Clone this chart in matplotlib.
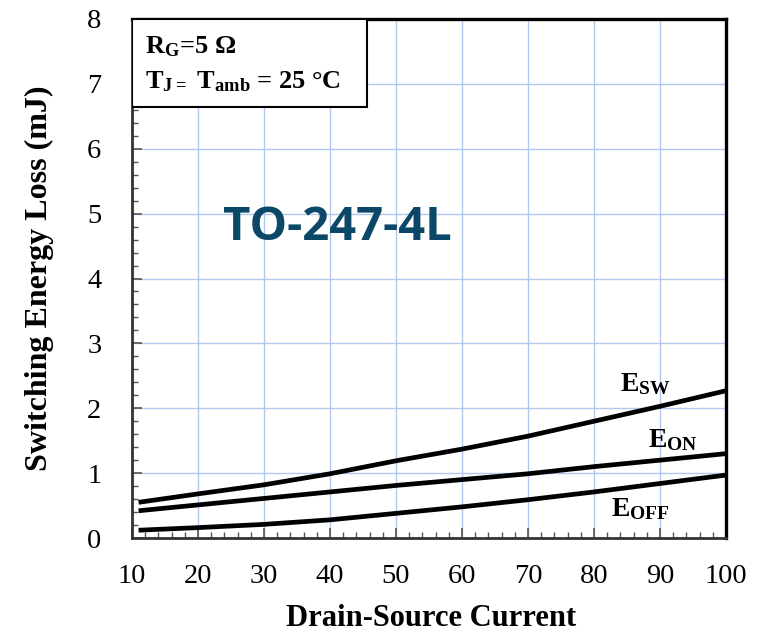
import matplotlib
matplotlib.use("Agg")
import matplotlib.pyplot as plt
from matplotlib.ticker import MultipleLocator
from matplotlib.patches import Rectangle

current = [11, 20, 30, 40, 50, 60, 70, 80, 90, 100]
e_sw = [0.55, 0.68, 0.82, 0.99, 1.19, 1.37, 1.57, 1.80, 2.03, 2.27]
e_on = [0.42, 0.51, 0.61, 0.71, 0.81, 0.90, 0.99, 1.10, 1.20, 1.30]
e_off = [0.12, 0.16, 0.21, 0.28, 0.38, 0.48, 0.59, 0.71, 0.84, 0.97]
x_ticks = [10, 20, 30, 40, 50, 60, 70, 80, 90, 100]
y_ticks = [0, 1, 2, 3, 4, 5, 6, 7, 8]

plt.rcParams['mathtext.fontset'] = 'custom'
plt.rcParams['mathtext.rm'] = 'Liberation Serif:bold'
plt.rcParams['mathtext.bf'] = 'Liberation Serif:bold'
plt.rcParams['mathtext.it'] = 'Liberation Serif:bold'

fig = plt.figure(figsize=(7.61, 6.33), dpi=100)
ax = fig.add_axes([132/761, 1-538/633, (726-132)/761, (538-19)/633])

grid_c = '#b3c7ee'
ax.set_xlim(10, 100)
ax.set_ylim(0, 8)
ax.set_xticks(x_ticks)
ax.set_yticks(y_ticks)
ax.xaxis.set_minor_locator(MultipleLocator(2))
ax.yaxis.set_minor_locator(MultipleLocator(0.2))
ax.grid(True, which='major', color=grid_c, linewidth=1.0)
ax.set_axisbelow(True)

for s in ax.spines.values():
    s.set_linewidth(2.4)
    s.set_color('black')
ax.spines['left'].set_color('#333333')
ax.spines['bottom'].set_color('#333333')
ax.spines['left'].set_linewidth(2.0)
ax.spines['bottom'].set_linewidth(2.0)

ax.tick_params(which='major', direction='in', length=7, width=1.2, color='#555555',
               top=False, right=False)
ax.tick_params(which='minor', direction='in', length=4, width=1.0, color='#555555',
               top=False, right=False)
ax.tick_params(axis='x', which='major', pad=19)
ax.tick_params(axis='y', which='major', pad=22)
for lab in ax.get_xticklabels() + ax.get_yticklabels():
    lab.set_fontfamily('Liberation Serif')
    lab.set_fontsize(20.5)

lw = 3.4
ax.plot(current, e_sw, color='black', lw=lw, solid_capstyle='butt', solid_joinstyle='round')
ax.plot(current, e_on, color='black', lw=lw, solid_capstyle='butt', solid_joinstyle='round')
ax.plot(current, e_off, color='black', lw=lw, solid_capstyle='butt', solid_joinstyle='round')

ax.set_xlabel('Drain-Source Current', fontfamily='Liberation Serif', fontweight='bold',
              fontsize=22, va='top')
ax.xaxis.set_label_coords(0.503, -0.127)
ax.set_ylabel('Switching Energy Loss (mJ)', fontfamily='Liberation Serif', fontweight='bold',
              fontsize=23)
ax.yaxis.set_label_coords(-0.132, 0.5)

lab_kw = dict(fontfamily='Liberation Serif', fontweight='bold', fontsize=20, va='baseline')
ax.text(83.9, 2.27, r'$\mathrm{E_{SW}}$', **lab_kw)
ax.text(88.2, 1.40, r'$\mathrm{E_{ON}}$', **lab_kw)
ax.text(82.6, 0.34, r'$\mathrm{E_{OFF}}$', **lab_kw)

ax.text(23.8, 4.60, 'TO-247-4L', fontfamily='Open Sans', fontweight='bold', fontsize=34,
        color='#0b4766', va='baseline')

box = Rectangle((0, 0.830), 0.396, 0.170, transform=ax.transAxes, facecolor='white',
                edgecolor='black', linewidth=1.5, zorder=5)
ax.add_patch(box)
bkw = dict(transform=ax.transAxes, fontfamily='Liberation Serif', fontweight='bold',
           fontsize=19, va='baseline', zorder=6)
ax.text(0.022, 0.933, r'$\mathrm{R_G}$=5 Ω', **bkw)
ax.text(0.022, 0.867, r'$\mathrm{T_{J=}\ T_{amb}}$ = 25 °C', **bkw)

fig.savefig('out.png', dpi=100)
